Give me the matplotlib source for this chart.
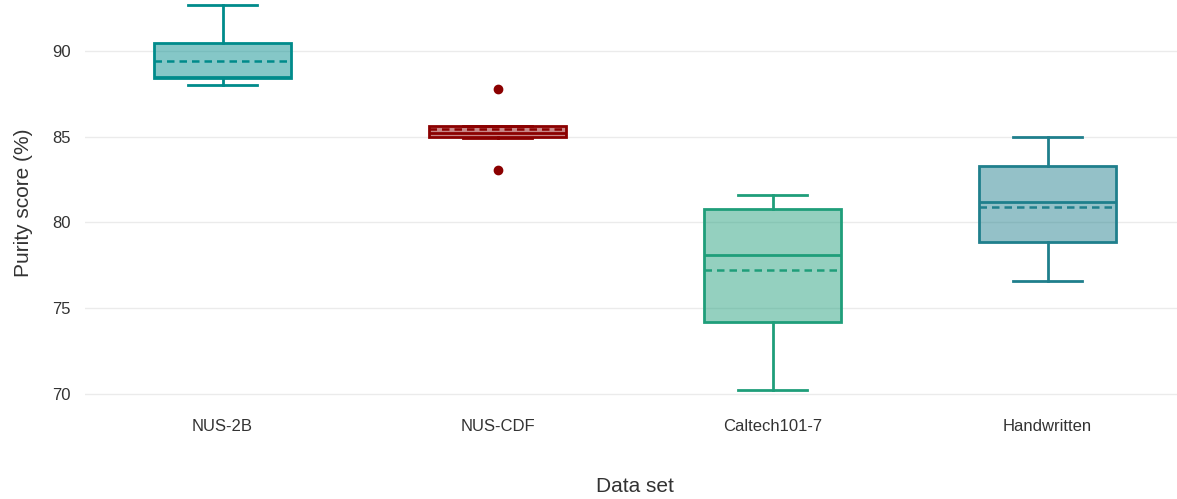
import matplotlib.pyplot as plt

plt.rcParams['font.family'] = ['Liberation Sans', 'DejaVu Sans']

datasets = ["NUS-2B", "NUS-CDF", "Caltech101-7", "Handwritten"]
q1 = [88.45, 85.0, 74.2, 78.85]
median = [88.5, 85.2, 78.1, 81.2]
q3 = [90.47, 85.63, 80.8, 83.3]
mean = [89.42, 85.45, 77.23, 80.9]
whislo = [88.0, 84.9, 70.2, 76.6]
whishi = [92.7, 85.63, 81.6, 85.0]
fliers = [[], [87.8, 83.05], [], []]
colors = ["#008b8b", "#8b0000", "#1f9e7a", "#1f7f8c"]

stats = []
for i in range(len(datasets)):
    stats.append(dict(label=datasets[i], q1=q1[i], med=median[i], q3=q3[i],
                      mean=mean[i], whislo=whislo[i], whishi=whishi[i],
                      fliers=fliers[i]))

fig = plt.figure(figsize=(11.77, 4.99), dpi=100)
ax = fig.add_axes([85 / 1177, 94 / 499, 1100 / 1177, 405 / 499])

for i, s in enumerate(stats):
    c = colors[i]
    ax.bxp([s], positions=[i], widths=0.5, patch_artist=True, showmeans=True,
           meanline=True, showfliers=True,
           boxprops=dict(facecolor=c + "7a", edgecolor=c, linewidth=2),
           medianprops=dict(color=c, linewidth=2),
           meanprops=dict(color=c, linewidth=1.8, linestyle=(0, (3, 2))),
           whiskerprops=dict(color=c, linewidth=2),
           capprops=dict(color=c, linewidth=2),
           capwidths=0.25,
           flierprops=dict(marker="o", markerfacecolor=c, markeredgecolor=c,
                           markersize=6))

ax.set_xlim(-0.5, 3.5)
ax.set_ylim(69.35, 92.97)
ax.set_yticks([70, 75, 80, 85, 90])
ax.grid(axis="y", color="#ebebeb", linewidth=1)
ax.set_axisbelow(True)
for sp in ax.spines.values():
    sp.set_visible(False)
ax.tick_params(length=0, labelsize=12, colors="#333333", pad=10)
ax.set_xticks(range(len(datasets)))
ax.set_xticklabels(datasets)
ax.set_xlabel("Data set", fontsize=15, color="#333333", labelpad=31)
ax.set_ylabel("Purity score (%)", fontsize=15, color="#333333", labelpad=14)

fig.savefig("out.png", dpi=100)
